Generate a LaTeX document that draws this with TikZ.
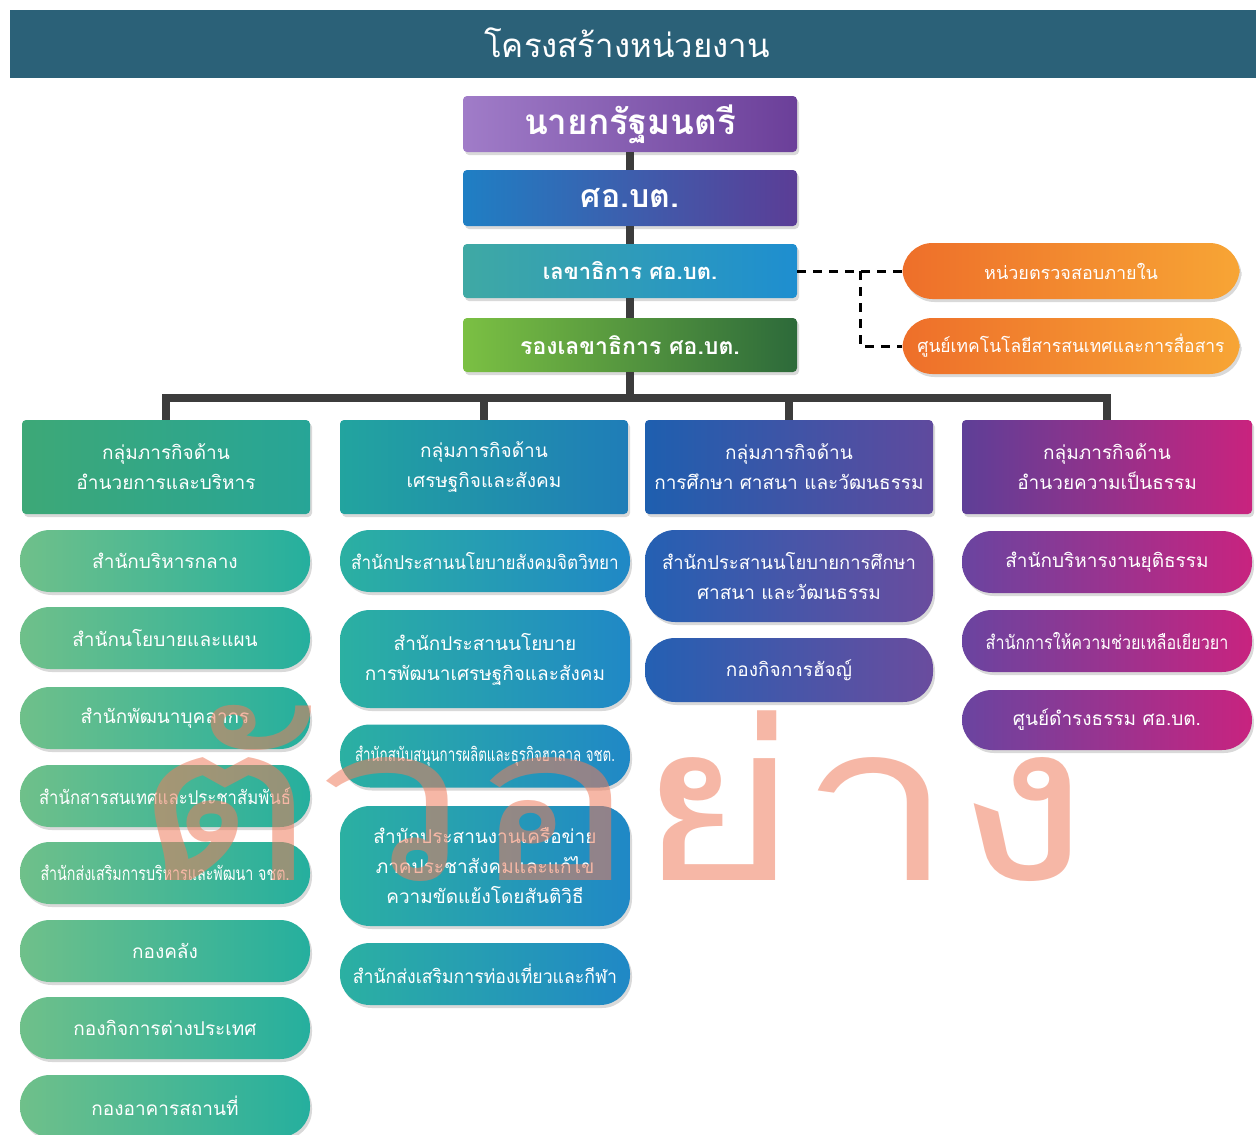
\documentclass[tikz,border=0pt]{standalone}
\usepackage{graphicx}
\usepackage{fontspec}
\newfontfamily\thaifont[Script=Thai]{Loma}
\usetikzlibrary{shadows}

\definecolor{headbg}{HTML}{2B6178}
\definecolor{trunkgray}{HTML}{3C3C3C}
\definecolor{pmL}{HTML}{A07CC8}\definecolor{pmR}{HTML}{6B3F99}
\definecolor{sobL}{HTML}{1F7FC4}\definecolor{sobR}{HTML}{5B3D96}
\definecolor{secL}{HTML}{3FA9A4}\definecolor{secR}{HTML}{1E8ED0}
\definecolor{depL}{HTML}{7BC043}\definecolor{depR}{HTML}{2D6A3A}
\definecolor{orL}{HTML}{EE6F2A}\definecolor{orR}{HTML}{F7A535}
\definecolor{gaL}{HTML}{3DA877}\definecolor{gaR}{HTML}{27A597}
\definecolor{paL}{HTML}{6FC08A}\definecolor{paR}{HTML}{25AF9E}
\definecolor{gbL}{HTML}{22A49F}\definecolor{gbR}{HTML}{1F7DB8}
\definecolor{pbL}{HTML}{2BB0A2}\definecolor{pbR}{HTML}{2088C6}
\definecolor{gcL}{HTML}{1E5FAF}\definecolor{gcR}{HTML}{5F4A9E}
\definecolor{pcL}{HTML}{2460B3}\definecolor{pcR}{HTML}{6A4C9E}
\definecolor{gdL}{HTML}{5E3F97}\definecolor{gdR}{HTML}{C9237E}
\definecolor{pdL}{HTML}{6A44A0}\definecolor{pdR}{HTML}{C8237F}
\definecolor{wmcol}{HTML}{EE7C5C}

\tikzset{
  softshadow/.style={drop shadow={opacity=0.3,shadow xshift=2pt,shadow yshift=-3pt}},
  topbox/.style={rounded corners=4pt, minimum width=334pt, minimum height=56pt, text=white, softshadow,
    font=\thaifont\bfseries\fontsize{22}{26}\selectfont},
  grpbox/.style={rounded corners=4pt, minimum width=288pt, minimum height=94pt, text=white, align=center, softshadow,
    font=\thaifont\fontsize{19}{30}\selectfont},
  unitpill/.style={rounded corners=30pt, minimum width=290pt, minimum height=62pt, text=white, align=center, softshadow,
    font=\thaifont\fontsize{19}{30}\selectfont},
  sidepill/.style={unitpill, minimum width=337pt, minimum height=56pt, left color=orL, right color=orR,
    font=\thaifont\fontsize{18}{22}\selectfont},
  trunk/.style={draw=trunkgray, line width=8pt},
  dashline/.style={draw=black, line width=3pt, dash pattern=on 9pt off 7pt},
}

\begin{document}
\begin{tikzpicture}[x=1pt,y=1pt,yscale=-1,xscale=1]
\useasboundingbox (0,0) rectangle (1256,1135);

%Shape: Header bar
\fill[headbg] (10,10) rectangle (1256,78);
% Text Node
\node[text=white, font=\thaifont\fontsize{33}{36}\selectfont] (ttl) at (627,43) {โครงสร้างหน่วยงาน};

% Centre boxes
\node[topbox, left color=pmL, right color=pmR, font=\thaifont\bfseries\fontsize{35}{38}\selectfont] (pm) at (630,124) {นายกรัฐมนตรี};
\node[topbox, left color=sobL, right color=sobR, font=\thaifont\bfseries\fontsize{32}{36}\selectfont] (sob) at (630,198) {ศอ.บต.};
\node[topbox, left color=secL, right color=secR, minimum height=54pt] (sec) at (630,271) {เลขาธิการ ศอ.บต.};
\node[topbox, left color=depL, right color=depR, minimum height=54pt, font=\thaifont\bfseries\fontsize{23}{26}\selectfont] (dep) at (630,345) {รองเลขาธิการ ศอ.บต.};

% Side units
\node[sidepill] (ia) at (1071,271) {หน่วยตรวจสอบภายใน};
\node[sidepill] (ict) at (1071,346) {\scalebox{0.97}[1]{ศูนย์เทคโนโลยีสารสนเทศและการสื่อสาร}};

% Group boxes
\node[grpbox, left color=gaL, right color=gaR] (ga) at (166,467) {กลุ่มภารกิจด้าน\\อำนวยการและบริหาร};
\node[grpbox, left color=gbL, right color=gbR] (gb) at (484,467) {กลุ่มภารกิจด้าน\\เศรษฐกิจและสังคม};
\node[grpbox, left color=gcL, right color=gcR] (gc) at (789,467) {กลุ่มภารกิจด้าน\\การศึกษา ศาสนา และวัฒนธรรม};
\node[grpbox, left color=gdL, right color=gdR, minimum width=290pt] (gd) at (1107,467) {กลุ่มภารกิจด้าน\\อำนวยความเป็นธรรม};

% Column 1
\node[unitpill, left color=paL, right color=paR] (a1) at (165,561) {สำนักบริหารกลาง};
\node[unitpill, left color=paL, right color=paR] (a2) at (165,638) {สำนักนโยบายและแผน};
\node[unitpill, left color=paL, right color=paR] (a3) at (165,718) {สำนักพัฒนาบุคลากร};
\node[unitpill, left color=paL, right color=paR] (a4) at (165,796) {\scalebox{0.88}[1]{สำนักสารสนเทศและประชาสัมพันธ์}};
\node[unitpill, left color=paL, right color=paR] (a5) at (165,873) {\scalebox{0.75}[1]{สำนักส่งเสริมการบริหารและพัฒนา จชต.}};
\node[unitpill, left color=paL, right color=paR] (a6) at (165,951) {กองคลัง};
\node[unitpill, left color=paL, right color=paR] (a7) at (165,1028) {กองกิจการต่างประเทศ};
\node[unitpill, left color=paL, right color=paR] (a8) at (165,1106) {กองอาคารสถานที่};

% Column 2
\node[unitpill, left color=pbL, right color=pbR] (b1) at (485,561) {\scalebox{0.9}[1]{สำนักประสานนโยบายสังคมจิตวิทยา}};
\node[unitpill, left color=pbL, right color=pbR, minimum height=98pt] (b2) at (485,659) {สำนักประสานนโยบาย\\การพัฒนาเศรษฐกิจและสังคม};
\node[unitpill, left color=pbL, right color=pbR, minimum height=63pt] (b3) at (485,756) {\scalebox{0.7}[1]{สำนักสนับสนุนการผลิตและธุรกิจฮาลาล จชต.}};
\node[unitpill, left color=pbL, right color=pbR, minimum height=120pt] (b4) at (485,866) {สำนักประสานงานเครือข่าย\\ภาคประชาสังคมและแก้ไข\\ความขัดแย้งโดยสันติวิธี};
\node[unitpill, left color=pbL, right color=pbR] (b5) at (485,974) {\scalebox{0.93}[1]{สำนักส่งเสริมการท่องเที่ยวและกีฬา}};

% Column 3
\node[unitpill, left color=pcL, right color=pcR, minimum width=288pt, minimum height=92pt] (c1) at (789,576) {\scalebox{0.97}[1]{สำนักประสานนโยบายการศึกษา}\\ศาสนา และวัฒนธรรม};
\node[unitpill, left color=pcL, right color=pcR, minimum width=288pt, minimum height=64pt] (c2) at (789,670) {กองกิจการฮัจญ์};

% Column 4
\node[unitpill, left color=pdL, right color=pdR] (d1) at (1107,562) {สำนักบริหารงานยุติธรรม};
\node[unitpill, left color=pdL, right color=pdR] (d2) at (1107,641) {\scalebox{0.85}[1]{สำนักการให้ความช่วยเหลือเยียวยา}};
\node[unitpill, left color=pdL, right color=pdR, minimum height=60pt] (d3) at (1107,720) {ศูนย์ดำรงธรรม ศอ.บต.};

%Straight Lines
\coordinate (bus) at (630,398);
\coordinate (tap) at (860,271);
\draw[trunk] (pm) -- (sob);
\draw[trunk] (sob) -- (sec);
\draw[trunk] (sec) -- (dep);
\draw[trunk] (dep) -- (bus);
\draw[trunk] (ga.north) |- (bus) -| (gd.north);
\draw[trunk] (gb.north) |- (bus);
\draw[trunk] (gc.north) |- (bus);
\draw[dashline] (sec) -- (ia);
\draw[dashline] (tap) |- (ict);

% Watermark
\node[text=wmcol, text opacity=0.55, anchor=base] (wm) at (612,880) {\resizebox{955pt}{175pt}{\thaifont ตัวอย่าง}};

\end{tikzpicture}
\end{document}
